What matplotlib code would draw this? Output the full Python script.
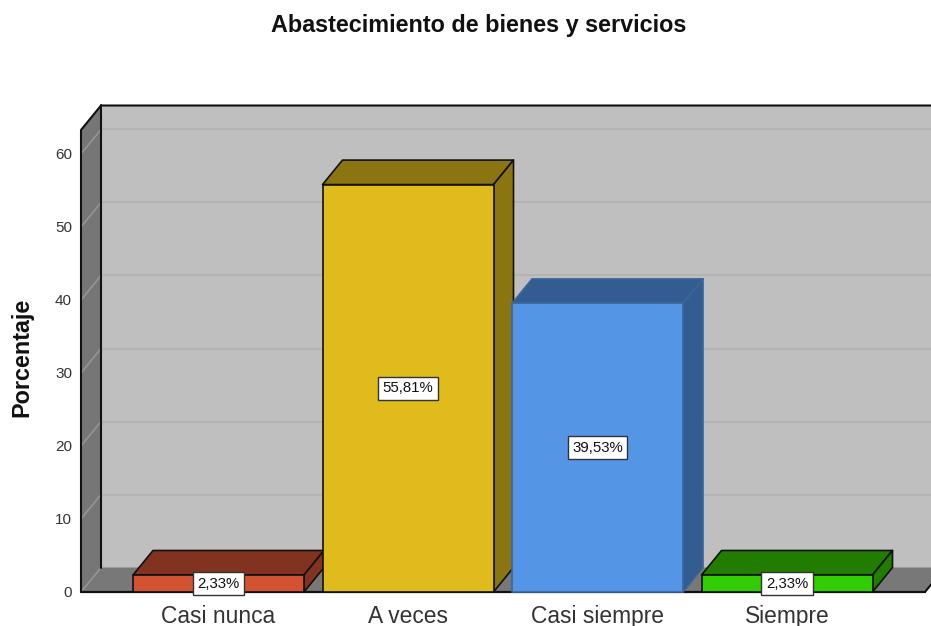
import matplotlib
matplotlib.use("Agg")
import matplotlib.pyplot as plt
from matplotlib.patches import Polygon

categories = ["Casi nunca", "A veces", "Casi siempre", "Siempre"]
values = [2.33, 55.81, 39.53, 2.33]
value_labels = ["2,33%", "55,81%", "39,53%", "2,33%"]
front_colors = ["#D35232", "#E0BB1C", "#5595E5", "#32CC00"]
side_colors = ["#813320", "#8A7510", "#335C91", "#217C00"]
edge_colors = ["#111111", "#111111", "#3A659C", "#111111"]
y_ticks = [0, 10, 20, 30, 40, 50, 60]

W, H = 931, 626
plt.rcParams["font.family"] = ["Liberation Sans", "DejaVu Sans"]
fig = plt.figure(figsize=(W / 100, H / 100), dpi=100)

L, R, B, T = 81, 925, 592, 130
ax = fig.add_axes([L / W, 1 - B / H, (R - L) / W, (B - T) / H])
PX_X, PX_Y = 189.5, 7.3
x0 = -(218.5 - L) / PX_X
ax.set_xlim(x0, x0 + (R - L) / PX_X)
ymax = (B - T) / PX_Y
ax.set_ylim(0, ymax)
ax.axis("off")
xmin, xmax = ax.get_xlim()
dx, dy = 20 / PX_X, 24.5 / PX_Y
width = 171 / PX_X


def poly(pts, fc, ec="none", lw=0.0, z=1):
    ax.add_patch(Polygon(pts, closed=True, facecolor=fc, edgecolor=ec, linewidth=lw,
                         zorder=z, clip_on=False, joinstyle="round"))


def line(xs, ys, c="#111111", lw=1.5, z=2):
    ax.plot(xs, ys, color=c, lw=lw, zorder=z, clip_on=False, solid_capstyle="round")


# walls
poly([(xmin + dx, dy), (xmax + dx, dy), (xmax + dx, ymax + dy), (xmin + dx, ymax + dy)], "#BFBFBF")
poly([(xmin, 0), (xmin + dx, dy), (xmin + dx, ymax + dy), (xmin, ymax)], "#767676")
poly([(xmin, 0), (xmax, 0), (xmax + dx, dy), (xmin + dx, dy)], "#787878")

# grid
for t in y_ticks:
    if t > 0:
        line([xmin + dx, xmax + dx], [t + dy, t + dy], "#B4B4B4", 1.5, 1.5)
        line([xmin, xmin + dx], [t, t + dy], "#979797", 1.1, 1.5)
line([xmin, xmin + dx], [0, dy], "#979797", 1.1, 1.5)

# frame
line([xmin, xmin, xmin + dx, xmax + dx], [0, ymax, ymax + dy, ymax + dy])
line([xmin, xmax], [0, 0], lw=1.6, z=2)
line([xmin + dx, xmin + dx], [dy, ymax + dy])
line([xmax, xmax + dx], [0, dy])

# bars
for i, (v, fc, sc, ec, lab) in enumerate(zip(values, front_colors, side_colors, edge_colors, value_labels)):
    a, b = i - width / 2, i + width / 2
    z = 3 + i * 0.1
    poly([(a, v), (b, v), (b + dx, v + dy), (a + dx, v + dy)], sc, ec, 1.2, z)
    poly([(b, 0), (b + dx, dy), (b + dx, v + dy), (b, v)], sc, ec, 1.2, z)
    poly([(a, 0), (b, 0), (b, v), (a, v)], fc, ec, 1.2, z)
    ax.text(i, v / 2 if v > 5 else 1.16, lab, ha="center", va="center", fontsize=10.8, color="#111111",
            zorder=6, bbox=dict(boxstyle="square,pad=0.3", fc="white", ec="#333333", lw=1.0))
    ax.text(i, -3.3, categories[i], ha="center", va="center", fontsize=16.4, color="#333333", clip_on=False)

for t in y_ticks:
    ax.text(xmin - 9 / PX_X, t - 0.1, str(t), ha="right", va="center", fontsize=11, color="#333333")

fig.text(478.5 / W, 1 - 25.5 / H, "Abastecimiento de bienes y servicios", ha="center", va="center",
         fontsize=16.8, fontweight="bold", color="#111111")
fig.text(22 / W, 1 - 357.5 / H, "Porcentaje", rotation=90, ha="center", va="center",
         fontsize=16.8, fontweight="bold", color="#111111")

fig.savefig("out.png", dpi=100)
